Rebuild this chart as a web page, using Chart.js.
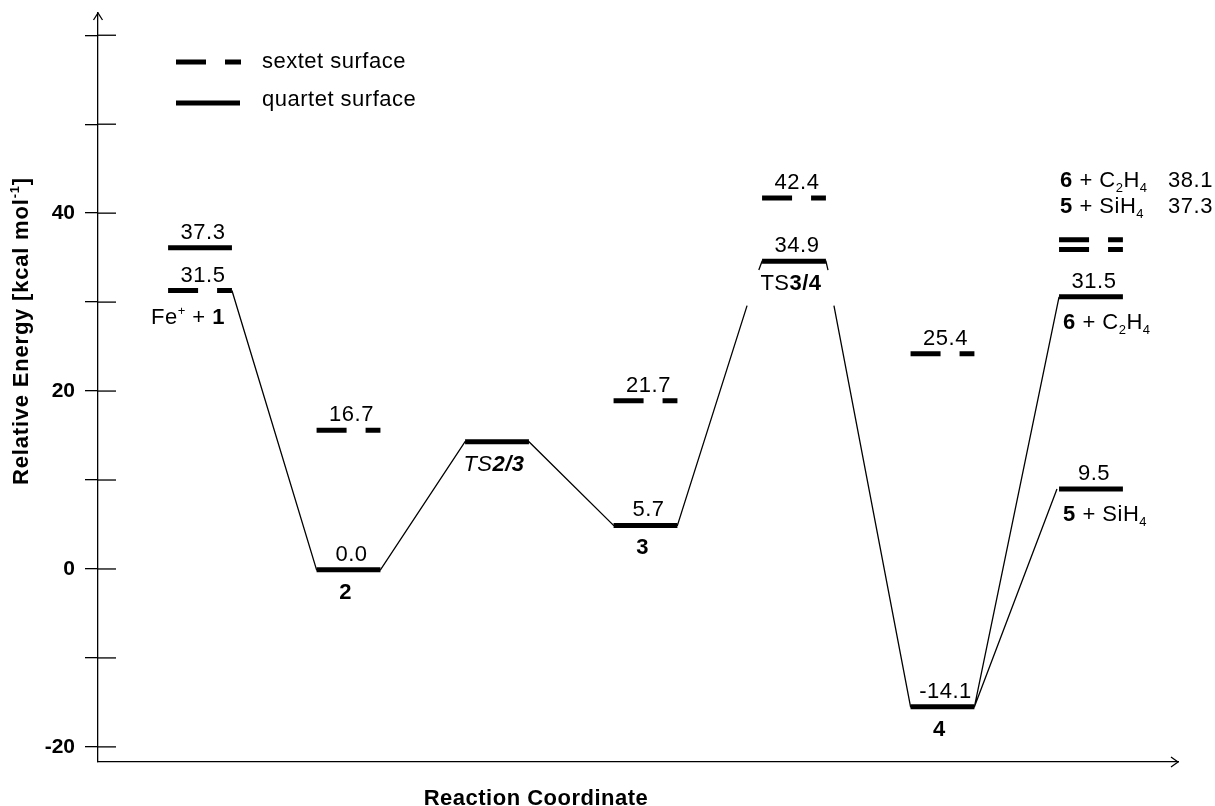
<!DOCTYPE html>
<html>
<head>
<meta charset="utf-8">
<script src="https://cdn.jsdelivr.net/npm/chart.js@4.4.1/dist/chart.umd.min.js"></script>
<style>
    html, body { margin: 0; padding: 0; background: #fff; }
    #wrap { width: 1215px; height: 806px; position: relative; }
</style>
</head>
<body>
<div id="wrap"><canvas id="graph1"></canvas></div>
<script>
// positions of the stationary points along the reaction coordinate
const stagePos = [1, 2, 3, 4, 5, 6, 7];

// quartet surface: stage index, level as drawn, printed energy
const quartetStage = [0, 1, 2, 3, 4, 5, 6, 6];
const quartetLevel = [36.1, -0.1, 14.3, 4.9, 34.6, -15.5, 30.6, 9.0];
const quartetText = ['37.3', '0.0', '', '5.7', '34.9', '-14.1', '31.5', '9.5'];

// sextet surface
const sextetStage = [0, 1, 3, 4, 5, 6, 6];
const sextetLevel = [31.3, 15.6, 18.9, 41.7, 24.2, 37.0, 35.9];
const sextetText = ['31.5', '16.7', '21.7', '42.4', '25.4', '38.1', '37.3'];

// species names (under the bars)
const speciesText = ['Fe<sup>+</sup> + <b>1</b>', '<b>2</b>', '<i>TS<b>2/3</b></i>', '<b>3</b>',
    'TS<b>3/4</b>', '<b>4</b>', '<b>6</b> + C<sub>2</sub>H<sub>4</sub>', '<b>5</b> + SiH<sub>4</sub>'];
const speciesBar = [['s', 0], ['q', 1], ['q', 2], ['q', 3], ['q', 4], ['q', 5], ['q', 6], ['q', 7]];
// product names of the two sextet asymptotes (top right list)
const sextetProducts = ['<b>6</b> + C<sub>2</sub>H<sub>4</sub>', '<b>5</b> + SiH<sub>4</sub>'];

// thin connecting lines of the quartet path (null = break)
const pathX = [1.215, 1.785, 2.215, 2.785, 3.215, 3.785, 4.215, 4.684, 4.7, 4.763, 4.785, 5.215, 5.229, 5.25,
    5.269, 5.785, 6.215, 6.785, 6.5, 6.215, 6.771];
const pathY = [31.3, -0.1, -0.1, 14.3, 14.3, 4.9, 4.9, 29.6, null, 33.6, 34.6, 34.6, 33.6, null,
    29.6, -15.5, -15.5, 30.6, null, -15.5, 9.0];

const yTicks = [-20, -10, 0, 10, 20, 30, 40, 50, 60];
const yTickLabels = ['-20', '', '0', '', '20', '', '40', '', ''];

const FONT = '"Liberation Sans", Arial, Helvetica, sans-serif';
const HALF = 0.215;          // half width of a level bar
const DASH = [30, 19];       // sextet dash pattern

Chart.defaults.font.family = FONT;
Chart.defaults.color = '#000';

function richRuns(str) {
    const st = { b: false, i: false, sup: false, sub: false };
    const runs = [];
    str.split(/(<\/?(?:b|i|sup|sub)>)/).forEach(p => {
        const m = p.match(/^<(\/?)(b|i|sup|sub)>$/);
        if (m) { st[m[2]] = !m[1]; return; }
        if (p) runs.push({ t: p, b: st.b, i: st.i, sup: st.sup, sub: st.sub });
    });
    return runs;
}

function drawRich(ctx, str, x, y, align, size, bold, spacing) {
    const runs = richRuns(str);
    const fontOf = r => `${r.i ? 'italic ' : ''}${(r.b || bold) ? 'bold ' : ''}${(r.sup || r.sub) ? Math.round(size * 0.6) : size}px ${FONT}`;
    ctx.letterSpacing = (spacing || 0.5) + 'px';
    let w = 0;
    runs.forEach(r => { ctx.font = fontOf(r); r.w = ctx.measureText(r.t).width; w += r.w; });
    let cx = align === 'center' ? x - w / 2 : align === 'right' ? x - w : x;
    ctx.textAlign = 'left';
    ctx.textBaseline = 'alphabetic';
    runs.forEach(r => {
        ctx.font = fontOf(r);
        const dy = r.sup ? -size * 0.4 : r.sub ? size * 0.22 : 0;
        ctx.fillText(r.t, cx, y + dy);
        cx += r.w;
    });
    ctx.letterSpacing = '0px';
}

function seg(ctx, x1, y1, x2, y2) {
    ctx.beginPath();
    ctx.moveTo(x1, y1);
    ctx.lineTo(x2, y2);
    ctx.stroke();
}

// level bars
const datasets = [];
quartetStage.forEach((s, i) => {
    datasets.push({
        data: [{ x: stagePos[s] - HALF, y: quartetLevel[i] }, { x: stagePos[s] + HALF, y: quartetLevel[i] }],
        borderColor: '#000', borderWidth: 5, borderCapStyle: 'butt', pointRadius: 0, showLine: true
    });
});
sextetStage.forEach((s, i) => {
    datasets.push({
        data: [{ x: stagePos[s] - HALF, y: sextetLevel[i] }, { x: stagePos[s] + HALF, y: sextetLevel[i] }],
        borderColor: '#000', borderWidth: 5, borderCapStyle: 'butt', borderDash: DASH, pointRadius: 0, showLine: true
    });
});
datasets.push({
    data: pathX.map((x, i) => ({ x: x, y: pathY[i] })),
    borderColor: '#000', borderWidth: 1.3, pointRadius: 0, showLine: true, spanGaps: false
});

const decorations = {
    id: 'decorations',
    afterDraw(chart) {
        const { ctx, chartArea: a, scales: { x, y } } = chart;
        ctx.save();
        ctx.strokeStyle = '#000';
        ctx.fillStyle = '#000';
        ctx.lineWidth = 1.3;

        // inner half of the tick crosses
        yTicks.forEach(t => {
            const py = y.getPixelForValue(t);
            seg(ctx, a.left, py, a.left + 18, py);
        });

        // arrow heads
        ctx.beginPath();
        ctx.moveTo(a.left - 4.5, a.top + 7);
        ctx.lineTo(a.left, a.top);
        ctx.lineTo(a.left + 4.5, a.top + 7);
        ctx.moveTo(a.right - 7, a.bottom - 5);
        ctx.lineTo(a.right, a.bottom);
        ctx.lineTo(a.right - 7, a.bottom + 5);
        ctx.stroke();

        // legend
        ctx.lineWidth = 5;
        ctx.lineCap = 'butt';
        ctx.setLineDash(DASH);
        seg(ctx, 176, 62, 241, 62);
        ctx.setLineDash([]);
        seg(ctx, 176, 103, 240, 103);
        drawRich(ctx, 'sextet surface', 262, 68, 'left', 22);
        drawRich(ctx, 'quartet surface', 262, 106, 'left', 22);

        const bar = (surf, i) => {
            const st = surf === 'q' ? quartetStage[i] : sextetStage[i];
            const lv = surf === 'q' ? quartetLevel[i] : sextetLevel[i];
            return {
                cx: x.getPixelForValue(stagePos[st]),
                l: x.getPixelForValue(stagePos[st] - HALF),
                y: y.getPixelForValue(lv)
            };
        };

        // energies above the bars
        quartetText.forEach((t, i) => {
            if (!t) return;
            const b = bar('q', i);
            drawRich(ctx, t, b.cx + 3, b.y - 9, 'center', 22);
        });
        sextetText.forEach((t, i) => {
            const b = bar('s', i);
            if (sextetStage[i] === 6) {
                const top = bar('s', 5);
                const k = i - 5;
                drawRich(ctx, sextetProducts[k], top.l + 1, top.y - 53 + 26 * k, 'left', 22);
                drawRich(ctx, t, top.l + 109, top.y - 53 + 26 * k, 'left', 22);
                return;
            }
            drawRich(ctx, t, b.cx + 3, b.y - 9, 'center', 22);
        });

        // species names under the bars
        speciesText.forEach((t, i) => {
            const b = bar(speciesBar[i][0], speciesBar[i][1]);
            if (quartetStage[speciesBar[i][1]] === 6 && speciesBar[i][0] === 'q') {
                drawRich(ctx, t, b.l + 4, b.y + 32, 'left', 22);
            } else {
                const nudge = i === 0 ? -12 : -3;
                drawRich(ctx, t, b.cx + nudge, b.y + (i === 0 ? 33 : 29), 'center', 22);
            }
        });

        // axis titles
        drawRich(ctx, 'Reaction Coordinate', 536, 805, 'center', 22, true);
        ctx.translate(28, 331);
        ctx.rotate(-Math.PI / 2);
        drawRich(ctx, 'Relative Energy [kcal mol<sup>-1</sup>]', 0, 0, 'center', 22, true, 0.8);
        ctx.restore();
    }
};

function generateChart() {
    const ctx = document.getElementById('graph1').getContext('2d');
    new Chart(ctx, {
        type: 'scatter',
        data: { datasets: datasets },
        options: {
            responsive: true,
            maintainAspectRatio: false,
            animation: false,
            layout: { padding: { top: 13, right: 37, left: 0, bottom: 0 } },
            plugins: {
                legend: { display: false },
                tooltip: { enabled: false }
            },
            scales: {
                x: {
                    type: 'linear',
                    min: 0.313,
                    max: 7.586,
                    ticks: { display: false },
                    grid: { display: false },
                    border: { display: true, color: '#000', width: 1.3 },
                    afterFit: s => { s.height = 44; s.paddingLeft = 0; s.paddingRight = 0; }
                },
                y: {
                    type: 'linear',
                    min: -21.7,
                    max: 62.5,
                    afterBuildTicks: s => { s.ticks = yTicks.map(v => ({ value: v })); },
                    ticks: {
                        autoSkip: false,
                        padding: 10,
                        font: { size: 21, weight: 'bold' },
                        color: '#000',
                        callback: (v, i) => yTickLabels[i]
                    },
                    grid: { drawOnChartArea: false, tickLength: 13, color: '#000', lineWidth: 1.3 },
                    border: { display: true, color: '#000', width: 1.3 },
                    afterFit: s => { s.width = 98; s.paddingTop = 0; s.paddingBottom = 0; }
                }
            }
        },
        plugins: [decorations]
    });
}

document.addEventListener('DOMContentLoaded', function () {
    generateChart();
});
</script>
</body>
</html>
